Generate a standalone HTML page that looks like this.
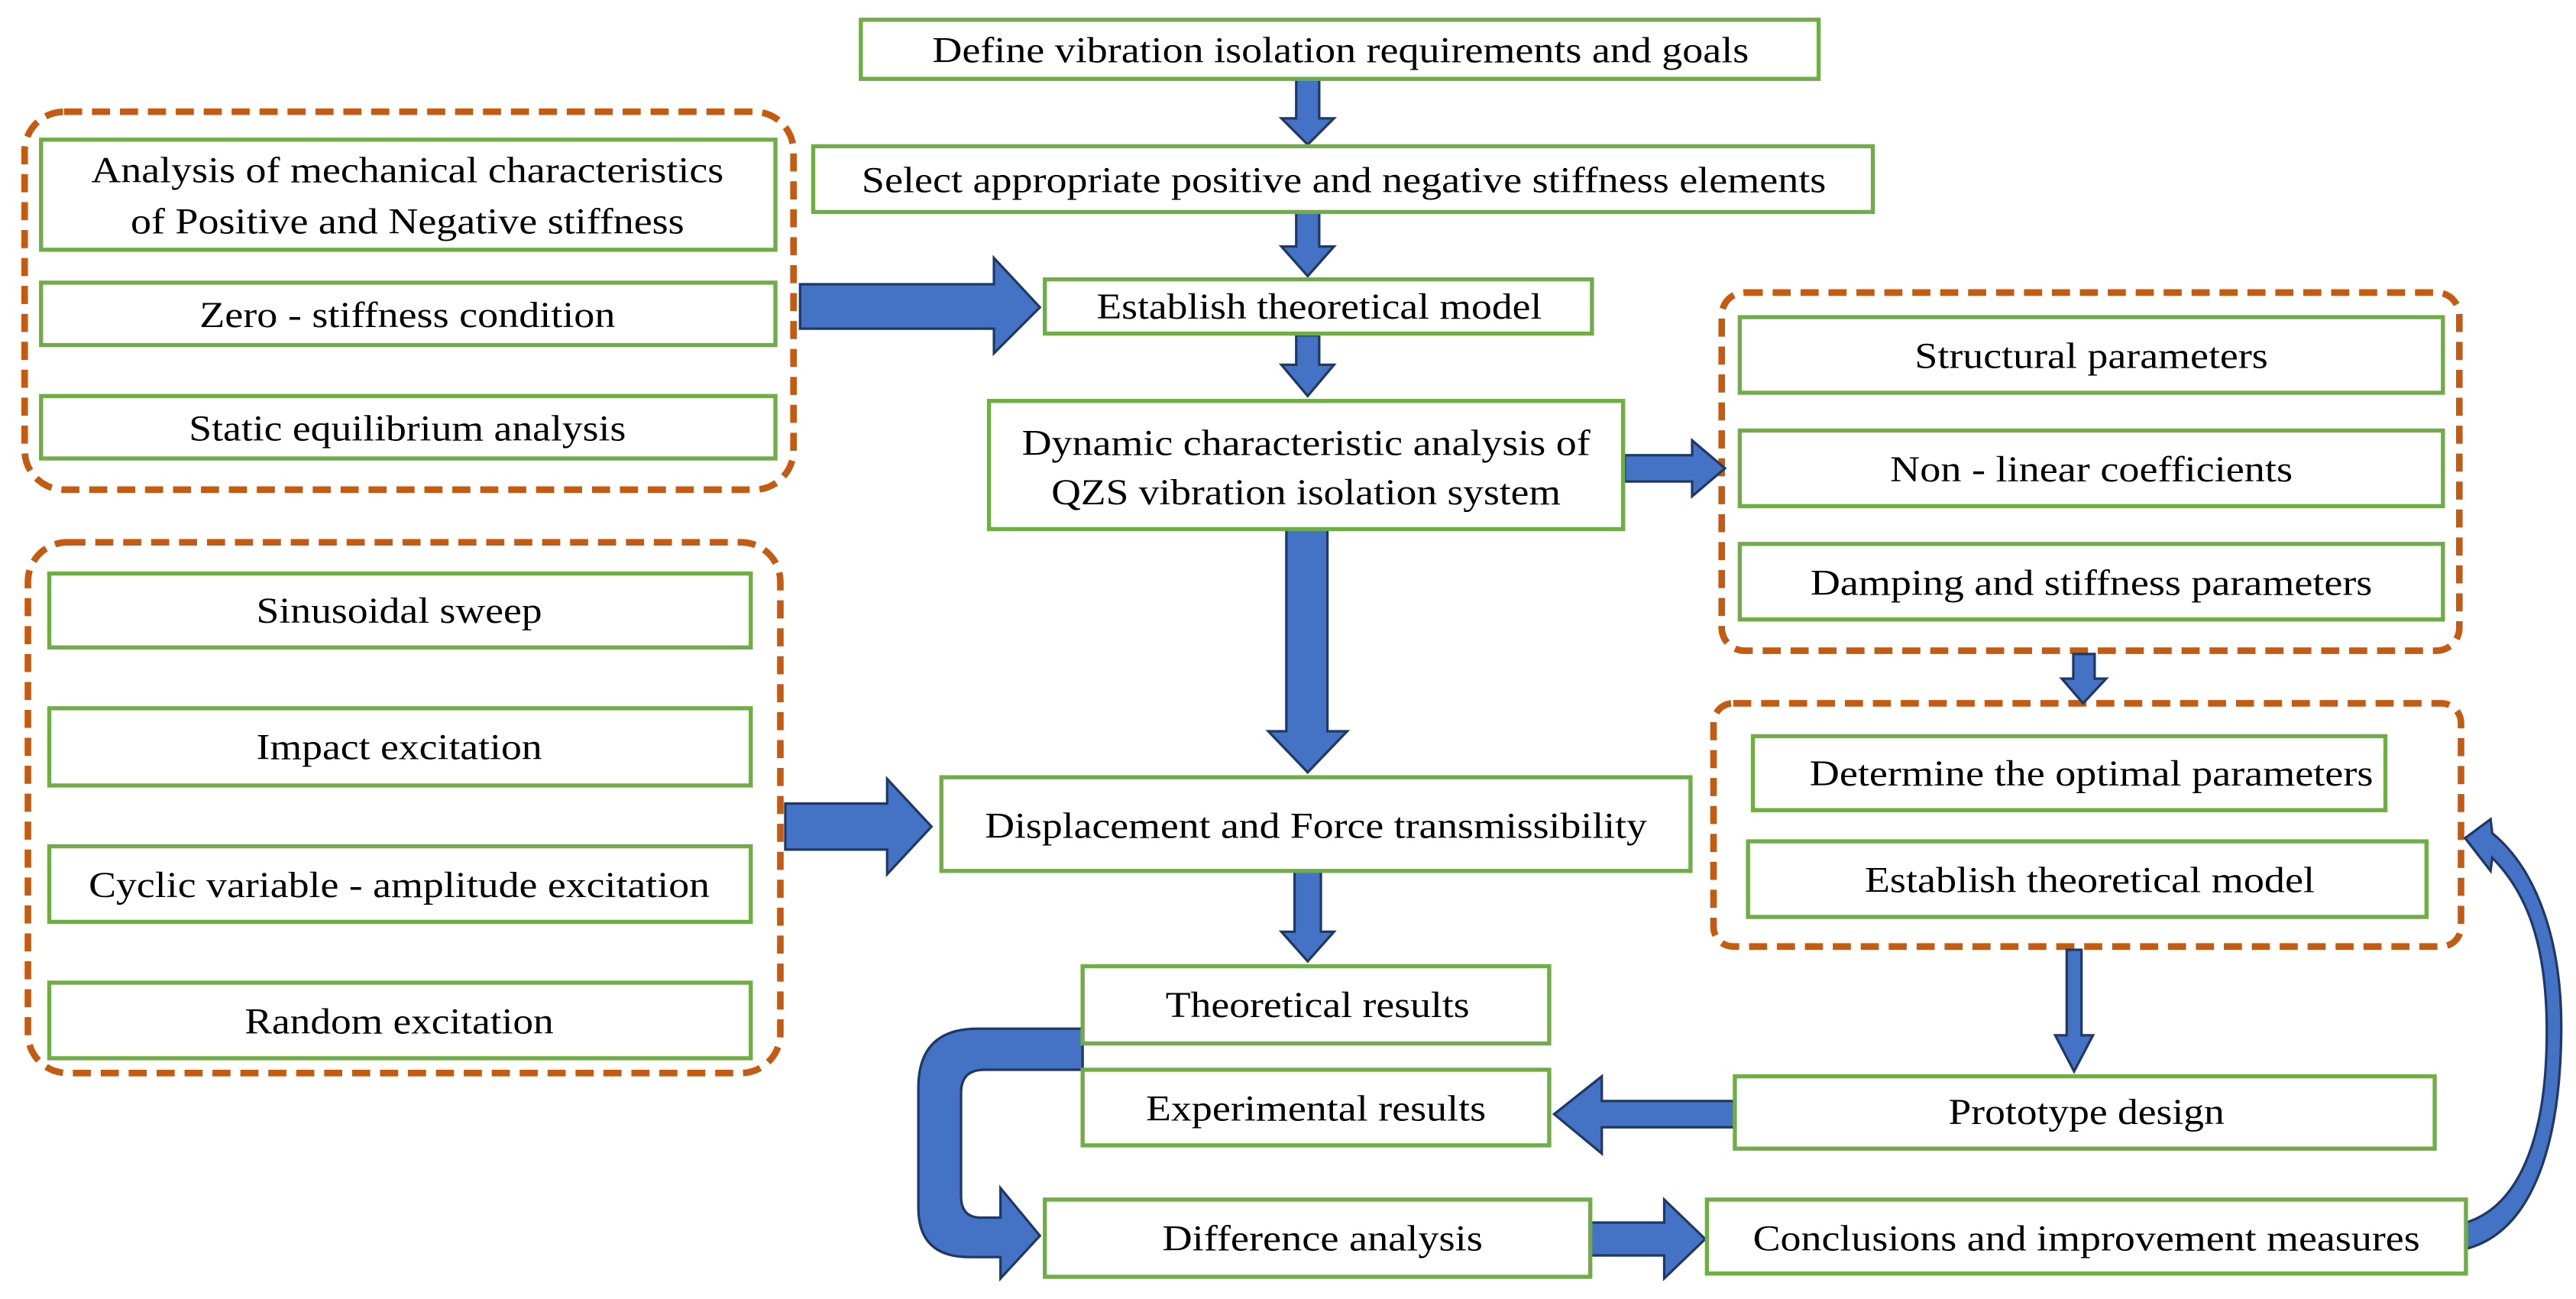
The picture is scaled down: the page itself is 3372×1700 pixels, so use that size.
<!DOCTYPE html>
<html><head><meta charset="utf-8"><style>
html,body{margin:0;padding:0;background:#fff;}
svg{display:block;}
text{font-family:"Liberation Serif",serif;font-size:22px;fill:#000;text-anchor:middle;dominant-baseline:central;}
.b{fill:#fff;stroke:#70AD47;stroke-width:2.5;}
.g{fill:none;stroke:#C55A11;stroke-width:4;stroke-dasharray:11,6;}
.a{fill:#4472C4;stroke:#1F3864;stroke-width:1.5;stroke-linejoin:miter;}
</style></head><body>
<svg width="3372" height="1700" viewBox="0 0 1568 790.5" xmlns="http://www.w3.org/2000/svg">
<rect width="1568" height="790.5" fill="#fff"/>
<!-- groups -->
<rect class="g" x="15" y="68" width="468" height="230" rx="24"/>
<rect class="g" x="1048" y="178" width="449" height="218" rx="14"/>
<rect class="g" x="17" y="330" width="458" height="323" rx="24"/>
<rect class="g" x="1043" y="428" width="455" height="148" rx="12"/>

<!-- arrows -->
<path class="a" d="M789,48 H803 V72 H812 L796,88 L780,72 H789 Z"/>
<path class="a" d="M789,129 H803 V150 H812 L796,168 L780,150 H789 Z"/>
<path class="a" d="M789,204 H803 V222 H812 L796,241 L780,222 H789 Z"/>
<path class="a" d="M783,322 H808 V445 H820 L796,470 L772,445 H783 Z"/>
<path class="a" d="M788,530 H804 V567 H812 L796,585 L780,567 H788 Z"/>
<path class="a" d="M487,173 H605 V157 L633,187 L605,215 V200 H487 Z"/>
<path class="a" d="M989,277 H1030 V268 L1050,285 L1030,302 V293 H989 Z"/>
<path class="a" d="M1262,398 H1275 V413 H1282 L1268,428 L1255,413 H1262 Z"/>
<path class="a" d="M478,489 H540 V474 L567,503 L540,532 V517 H478 Z"/>
<path class="a" d="M1258,578 H1267 V630 H1274 L1262.5,652 L1251,630 H1258 Z"/>
<path class="a" d="M1056,670 H975 V655 L946,678 L975,702 V686 H1056 Z"/>
<path class="a" d="M968,744 H1013 V730 L1038,754 L1013,778 V764 H968 Z"/>
<path class="a" d="M659,626 H595 Q559,626 559,662 V735 Q559,765 590,765 H609 V778 L633,752 L609,723 V741 H597 Q585,741 585,728 V665 Q585,651 599,651 H659 Z"/>
<path class="a" d="M1501,744 C1530,735 1548,700 1550,640 C1552,580 1540,545 1517,522 L1516,530 L1500.5,510 L1516,498.5 L1517,507 C1545,530 1560,575 1559,630 C1558,700 1540,750 1501,760 Z"/>

<!-- boxes -->
<rect class="b" x="524" y="12" width="583" height="36"/>
<text x="816" y="31" textLength="497" lengthAdjust="spacingAndGlyphs">Define vibration isolation requirements and goals</text>
<rect class="b" x="495" y="89" width="645" height="40"/>
<text x="818" y="110" textLength="587" lengthAdjust="spacingAndGlyphs">Select appropriate positive and negative stiffness elements</text>

<rect class="b" x="25" y="85" width="447" height="67"/>
<text x="248" y="104" textLength="385" lengthAdjust="spacingAndGlyphs">Analysis of mechanical characteristics</text>
<text x="248" y="135" textLength="337" lengthAdjust="spacingAndGlyphs">of Positive and Negative stiffness</text>
<rect class="b" x="25" y="172" width="447" height="38"/>
<text x="248" y="192" textLength="253" lengthAdjust="spacingAndGlyphs">Zero - stiffness condition</text>
<rect class="b" x="25" y="241" width="447" height="38"/>
<text x="248" y="261" textLength="266" lengthAdjust="spacingAndGlyphs">Static equilibrium analysis</text>

<rect class="b" x="636" y="170" width="333" height="33"/>
<text x="803" y="187" textLength="271" lengthAdjust="spacingAndGlyphs">Establish theoretical model</text>
<rect class="b" x="602" y="244" width="386" height="78"/>
<text x="795" y="270" textLength="346" lengthAdjust="spacingAndGlyphs">Dynamic characteristic analysis of</text>
<text x="795" y="300" textLength="310" lengthAdjust="spacingAndGlyphs">QZS vibration isolation system</text>

<rect class="b" x="1059" y="193" width="428" height="46"/>
<text x="1273" y="217" textLength="215" lengthAdjust="spacingAndGlyphs">Structural parameters</text>
<rect class="b" x="1059" y="262" width="428" height="46"/>
<text x="1273" y="286" textLength="245" lengthAdjust="spacingAndGlyphs">Non - linear coefficients</text>
<rect class="b" x="1059" y="331" width="428" height="46"/>
<text x="1273" y="355" textLength="342" lengthAdjust="spacingAndGlyphs">Damping and stiffness parameters</text>

<rect class="b" x="30" y="349" width="427" height="45"/>
<text x="243" y="372" textLength="174" lengthAdjust="spacingAndGlyphs">Sinusoidal sweep</text>
<rect class="b" x="30" y="431" width="427" height="47"/>
<text x="243" y="455" textLength="174" lengthAdjust="spacingAndGlyphs">Impact excitation</text>
<rect class="b" x="30" y="515" width="427" height="46"/>
<text x="243" y="539" textLength="378" lengthAdjust="spacingAndGlyphs">Cyclic variable - amplitude excitation</text>
<rect class="b" x="30" y="598" width="427" height="46"/>
<text x="243" y="622" textLength="188" lengthAdjust="spacingAndGlyphs">Random excitation</text>

<rect class="b" x="573" y="473" width="456" height="57"/>
<text x="801" y="503" textLength="403" lengthAdjust="spacingAndGlyphs">Displacement and Force transmissibility</text>

<rect class="b" x="1067" y="448" width="385" height="45"/>
<text x="1273" y="471" textLength="343" lengthAdjust="spacingAndGlyphs">Determine the optimal parameters</text>
<rect class="b" x="1064" y="512" width="413" height="46"/>
<text x="1272" y="536" textLength="274" lengthAdjust="spacingAndGlyphs">Establish theoretical model</text>

<rect class="b" x="659" y="588" width="284" height="47"/>
<text x="802" y="612" textLength="185" lengthAdjust="spacingAndGlyphs">Theoretical results</text>
<rect class="b" x="659" y="651" width="284" height="46"/>
<text x="801" y="675" textLength="207" lengthAdjust="spacingAndGlyphs">Experimental results</text>
<rect class="b" x="1056" y="655" width="426" height="44"/>
<text x="1270" y="677" textLength="168" lengthAdjust="spacingAndGlyphs">Prototype design</text>
<rect class="b" x="636" y="730" width="332" height="47"/>
<text x="805" y="754" textLength="195" lengthAdjust="spacingAndGlyphs">Difference analysis</text>
<rect class="b" x="1039" y="730" width="462" height="45"/>
<text x="1270" y="754" textLength="406" lengthAdjust="spacingAndGlyphs">Conclusions and improvement measures</text>
</svg>
</body></html>
